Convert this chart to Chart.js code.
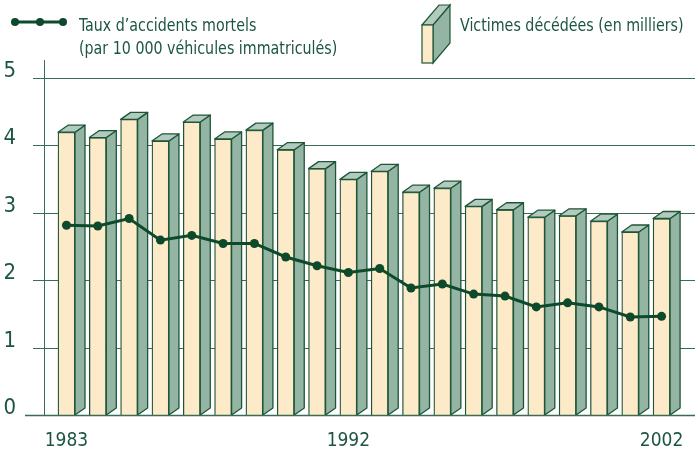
<!DOCTYPE html>
<html><head><meta charset="utf-8">
<script src="https://cdn.jsdelivr.net/npm/chart.js@4"></script>
<style>
html,body{margin:0;padding:0;background:#fff;}
#wrap{position:relative;width:695px;height:449px;overflow:hidden;}
canvas{position:absolute;left:0;top:0;}
.lg{position:absolute;font-family:'DejaVu Sans Condensed','Liberation Sans Narrow',sans-serif;font-size:18px;color:#1d5640;line-height:23px;white-space:nowrap;transform:scaleX(0.88);transform-origin:0 0;}
svg{position:absolute;}
</style></head>
<body>
<div id="wrap">
<canvas id="c" width="695" height="449"></canvas>
<svg style="left:10px;top:12px" width="60" height="20">
  <line x1="5" y1="10" x2="53" y2="10" stroke="#0d4a2c" stroke-width="3"/>
  <circle cx="5" cy="10" r="4" fill="#0d4a2c"/><circle cx="30" cy="10" r="4" fill="#0d4a2c"/><circle cx="53" cy="10" r="4" fill="#0d4a2c"/>
</svg>
<div class="lg" style="left:79px;top:13px">Taux d’accidents mortels<br>(par 10 000 véhicules immatriculés)</div>
<svg style="left:418px;top:2px" width="40" height="66">
  <polygon points="15,23 32,3 32,41 15,61" fill="#94b5a4" stroke="#1d5637" stroke-width="1.2"/>
  <polygon points="4,23 21,3 32,3 15,23" fill="#b3cbbf" stroke="#1d5637" stroke-width="1.2"/>
  <rect x="4" y="23" width="11" height="38" fill="#fdeac8" stroke="#1d5637" stroke-width="1.2"/>
</svg>
<div class="lg" style="left:460px;top:13px">Victimes décédées (en milliers)</div>
</div>
<script>
const years = ['1983','1984','1985','1986','1987','1988','1989','1990','1991','1992','1993','1994','1995','1996','1997','1998','1999','2000','2001','2002'];
const victims = [4.20,4.12,4.39,4.07,4.35,4.10,4.23,3.94,3.66,3.50,3.62,3.31,3.37,3.10,3.05,2.94,2.96,2.88,2.72,2.92];
const rate = [2.82,2.81,2.92,2.60,2.67,2.55,2.55,2.35,2.22,2.12,2.18,1.89,1.95,1.80,1.77,1.61,1.67,1.61,1.46,1.47];
const shownYears = ['1983','1992','2002'];
const yTicks = [0,1,2,3,4,5];

const FONT = "'DejaVu Sans Condensed','Liberation Sans Narrow',sans-serif";
const TXT = '#1d5640', GRID = '#3a6c56', OUT = '#1d5637';
const FRONT = '#fdeac8', SIDE = '#94b5a4', TOP = '#b3cbbf', LINE = '#0d4a2c';
const DX = 10, DY = 7;

const bar3d = {
  id: 'bar3d',
  afterDatasetDraw(chart, args) {
    if (args.index !== 1) return;
    const ctx = chart.ctx;
    ctx.save();
    ctx.lineWidth = 1.3;
    ctx.strokeStyle = OUT;
    ctx.lineJoin = 'round';
    args.meta.data.forEach(b => {
      const p = b.getProps(['x','y','base','width'], true);
      const l = p.x - p.width/2, r = p.x + p.width/2;
      ctx.beginPath();
      ctx.moveTo(r, p.y); ctx.lineTo(r+DX, p.y-DY); ctx.lineTo(r+DX, p.base-DY); ctx.lineTo(r, p.base); ctx.closePath();
      ctx.fillStyle = SIDE; ctx.fill(); ctx.stroke();
      ctx.beginPath();
      ctx.moveTo(l, p.y); ctx.lineTo(l+DX, p.y-DY); ctx.lineTo(r+DX, p.y-DY); ctx.lineTo(r, p.y); ctx.closePath();
      ctx.fillStyle = TOP; ctx.fill(); ctx.stroke();
    });
    ctx.restore();
  }
};
const baseExt = {
  id: 'baseExt',
  afterDatasetsDraw(chart) {
    const ctx = chart.ctx, ys = chart.scales.y, ca = chart.chartArea;
    const y0 = ys.getPixelForValue(0);
    ctx.save();
    ctx.strokeStyle = GRID; ctx.lineWidth = 1.5;
    ctx.beginPath(); ctx.moveTo(ca.left - 19, y0); ctx.lineTo(ca.right, y0); ctx.stroke();
    ctx.restore();
  }
};

new Chart(document.getElementById('c'), {
  type: 'bar',
  data: {
    datasets: [
      { type: 'line', label: 'Taux d’accidents mortels (par 10 000 véhicules immatriculés)',
        data: rate.map((v,i)=>({x:i,y:v})), borderColor: LINE, backgroundColor: LINE,
        borderWidth: 3, pointRadius: 4.5, pointBackgroundColor: LINE, pointBorderWidth: 0, order: 0 },
      { type: 'bar', label: 'Victimes décédées (en milliers)',
        data: victims.map((v,i)=>({x:i,y:v})), backgroundColor: FRONT, borderColor: OUT,
        borderWidth: 1.3, barThickness: 17, order: 1 }
    ]
  },
  options: {
    responsive: false, animation: false,
    layout: { autoPadding: false, padding: { top: 60, right: 0, bottom: 0, left: 0 } },
    plugins: { legend: { display: false }, tooltip: { enabled: false } },
    scales: {
      x: {
        type: 'linear', min: -0.718, max: 20.067, offset: false,
        grid: { display: true, drawOnChartArea: false, drawTicks: true, tickLength: 14, tickColor: 'rgba(0,0,0,0)', color: 'rgba(0,0,0,0)', offset: false },
        border: { display: false },
        afterBuildTicks: s => { s.ticks = shownYears.map(y => ({ value: years.indexOf(y) })); },
        afterFit: s => { s.height = 33.5; },
        ticks: { autoSkip: false, maxRotation: 0, padding: 0, color: TXT,
          font: { family: FONT, size: 19 },
          callback: v => years[v] }
      },
      y: {
        min: 0, max: 5.27,
        afterBuildTicks: s => { s.ticks = yTicks.map(v => ({ value: v })); },
        afterFit: s => { s.width = 44; },
        grid: { color: GRID, lineWidth: 1, tickLength: 11, drawTicks: true, tickColor: GRID },
        border: { display: true, color: GRID, width: 1 },
        ticks: { padding: 17, labelOffset: -7, color: TXT, font: { family: FONT, size: 22 } }
      }
    }
  },
  plugins: [bar3d, baseExt]
});
</script>
</body></html>
